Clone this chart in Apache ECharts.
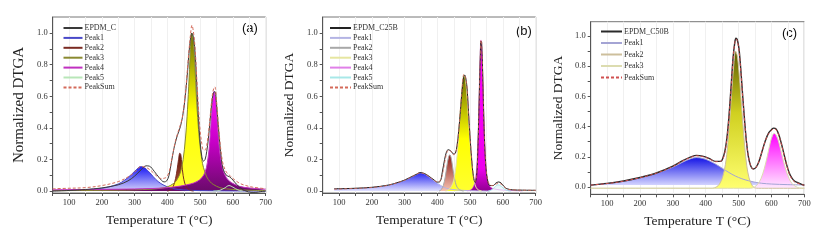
<!DOCTYPE html>
<html><head><meta charset="utf-8">
<script src="https://cdn.jsdelivr.net/npm/echarts@6/dist/echarts.min.js"></script>
<style>html,body{margin:0;padding:0;background:#fff}#c{width:835px;height:240px}</style>
</head><body><div id="c"></div>
<script>
// ---------- tick labels ----------
const xLabelValues = [100,200,300,400,500,600,700];
const yLabelValues = [0,0.2,0.4,0.6,0.8,1.0];
const yTickValues = [0,0.1,0.2,0.3,0.4,0.5,0.6,0.7,0.8,0.9,1.0];
const panelLabels = ['(a)','(b)','(c)'];
const xTitle = 'Temperature T (\u00B0C)';
const yTitle = 'Normalized DTGA';

// ---------- panel (a): EPDM_C ----------
const aNames = ['EPDM_C','Peak1','Peak2','Peak3','Peak4','Peak5','PeakSum'];
const aEPDM = [[50,0.0],[100,0.004],[150,0.01],[200,0.02],[250,0.04],[280,0.065],[300,0.095],[320,0.135],[335,0.16],[345,0.158],[360,0.125],[375,0.085],[390,0.058],[398,0.065],[405,0.1],[412,0.18],[420,0.27],[430,0.35],[440,0.41],[450,0.52],[460,0.72],[468,0.92],[475,1.0],[480,0.97],[485,0.86],[490,0.66],[495,0.46],[500,0.31],[505,0.22],[510,0.19],[515,0.2],[520,0.25],[525,0.33],[530,0.44],[535,0.55],[540,0.62],[545,0.63],[550,0.55],[555,0.42],[560,0.3],[565,0.2],[570,0.14],[580,0.1],[590,0.09],[600,0.07],[610,0.045],[620,0.025],[630,0.01],[640,0.0],[655,-0.008],[670,-0.008],[685,-0.003],[700,0.0]];
const aP1 = [[50,0.003],[100,0.005],[150,0.009],[200,0.018],[220,0.026],[250,0.045],[270,0.07],[290,0.105],[305,0.135],[318,0.155],[330,0.148],[340,0.13],[350,0.108],[364,0.075],[380,0.048],[400,0.027],[420,0.015],[450,0.007],[500,0.003],[600,0.001],[700,0.0]];
const aP2 = [[400,0.0],[410,0.008],[418,0.03],[425,0.08],[430,0.14],[434,0.2],[438,0.24],[441,0.23],[444,0.17],[448,0.1],[453,0.05],[460,0.02],[470,0.005],[480,0.0]];
const aP3 = [[50,0.003],[150,0.004],[250,0.006],[300,0.008],[350,0.012],[380,0.018],[400,0.027],[420,0.05],[430,0.075],[440,0.12],[448,0.2],[455,0.33],[460,0.47],[465,0.66],[470,0.88],[474,1.0],[478,0.97],[482,0.86],[486,0.7],[490,0.54],[495,0.39],[500,0.28],[505,0.2],[510,0.15],[520,0.09],[530,0.06],[540,0.042],[560,0.022],[580,0.014],[620,0.008],[660,0.005],[700,0.004]];
const aP4 = [[50,0.008],[150,0.01],[250,0.012],[350,0.016],[400,0.022],[440,0.032],[470,0.045],[490,0.06],[505,0.085],[515,0.12],[522,0.18],[528,0.28],[533,0.42],[538,0.56],[542,0.63],[546,0.6],[550,0.5],[554,0.38],[558,0.28],[563,0.2],[570,0.13],[580,0.085],[590,0.062],[600,0.048],[620,0.03],[650,0.02],[700,0.012]];
const aP5 = [[540,0.0],[560,0.005],[575,0.02],[588,0.035],[600,0.025],[615,0.008],[630,0.0]];
const aSum = [[50,0.015],[100,0.018],[150,0.022],[200,0.035],[250,0.06],[280,0.09],[300,0.12],[320,0.155],[335,0.15],[350,0.13],[365,0.1],[380,0.08],[395,0.085],[405,0.12],[415,0.22],[425,0.32],[435,0.39],[445,0.46],[455,0.62],[463,0.82],[470,0.98],[475,1.05],[480,1.0],[485,0.89],[490,0.7],[495,0.52],[500,0.38],[505,0.3],[510,0.26],[515,0.26],[520,0.29],[525,0.36],[530,0.46],[535,0.57],[540,0.64],[545,0.66],[550,0.57],[555,0.44],[560,0.32],[565,0.23],[570,0.17],[580,0.12],[590,0.1],[600,0.08],[620,0.05],[640,0.035],[660,0.025],[700,0.015]];

// ---------- panel (b): EPDM_C25B ----------
const bNames = ['EPDM_C25B','Peak1 ','Peak2 ','Peak3 ','Peak4 ','Peak5 ','PeakSum '];
const bEPDM = [[85,0.015],[120,0.016],[150,0.018],[200,0.024],[250,0.038],[280,0.055],[300,0.07],[320,0.09],[335,0.105],[347,0.117],[360,0.112],[375,0.093],[390,0.07],[400,0.057],[408,0.06],[415,0.12],[422,0.2],[428,0.25],[433,0.262],[438,0.258],[443,0.25],[449,0.235],[455,0.24],[460,0.29],[465,0.38],[470,0.5],[475,0.63],[480,0.72],[483,0.735],[487,0.71],[491,0.64],[495,0.5],[500,0.33],[505,0.19],[510,0.09],[515,0.055],[520,0.1],[524,0.3],[528,0.62],[531,0.86],[533,0.95],[535,0.94],[538,0.76],[541,0.51],[544,0.31],[548,0.15],[553,0.07],[560,0.035],[570,0.035],[578,0.05],[587,0.058],[595,0.05],[603,0.03],[612,0.015],[630,0.008],[660,0.006],[700,0.005]];
const bP1 = [[85,0.012],[150,0.016],[200,0.022],[250,0.037],[280,0.055],[300,0.069],[320,0.089],[335,0.104],[347,0.116],[360,0.11],[375,0.09],[390,0.066],[400,0.05],[410,0.036],[420,0.024],[435,0.014],[460,0.007],[500,0.003],[560,0.0]];
const bP2 = [[405,0.0],[412,0.01],[418,0.035],[424,0.09],[429,0.16],[434,0.215],[438,0.23],[442,0.21],[446,0.16],[450,0.105],[455,0.055],[460,0.025],[468,0.008],[480,0.0]];
const bP3 = [[425,0.0],[435,0.01],[443,0.03],[450,0.07],[457,0.16],[463,0.3],[468,0.45],[473,0.6],[477,0.7],[481,0.735],[485,0.715],[489,0.64],[493,0.52],[497,0.39],[501,0.27],[505,0.17],[510,0.09],[515,0.04],[522,0.012],[535,0.0]];
const bP4 = [[490,0.0],[503,0.01],[511,0.035],[516,0.08],[520,0.17],[524,0.36],[527,0.6],[530,0.85],[533,0.957],[536,0.9],[539,0.72],[542,0.5],[545,0.31],[549,0.15],[554,0.065],[560,0.03],[570,0.016],[590,0.008],[620,0.004],[660,0.0]];
const bP5 = [[555,0.0],[565,0.008],[575,0.025],[585,0.04],[595,0.03],[605,0.012],[615,0.003],[625,0.0]];
const bSum = [[85,0.012],[150,0.017],[200,0.023],[250,0.037],[300,0.069],[330,0.1],[347,0.115],[360,0.11],[375,0.09],[390,0.068],[400,0.058],[410,0.07],[418,0.13],[425,0.21],[431,0.255],[436,0.26],[442,0.25],[448,0.23],[455,0.24],[460,0.28],[465,0.38],[470,0.51],[475,0.64],[481,0.74],[486,0.72],[491,0.64],[495,0.5],[500,0.34],[505,0.2],[510,0.1],[515,0.06],[520,0.1],[524,0.3],[528,0.62],[531,0.86],[533,0.957],[535,0.94],[538,0.76],[541,0.51],[544,0.31],[548,0.16],[553,0.075],[560,0.04],[570,0.035],[580,0.045],[588,0.05],[597,0.04],[605,0.025],[615,0.012],[640,0.007],[700,0.005]];

// ---------- panel (c): EPDM_C50B ----------
const cNames = ['EPDM_C50B','Peak1  ','Peak2  ','Peak3  ','PeakSum  '];
const cEPDM = [[50,0.013],[100,0.024],[150,0.04],[200,0.063],[250,0.093],[300,0.138],[330,0.175],[355,0.2],[372,0.21],[390,0.205],[410,0.19],[430,0.17],[445,0.17],[455,0.21],[463,0.3],[470,0.45],[477,0.66],[483,0.85],[488,0.95],[492,0.985],[496,0.975],[501,0.92],[506,0.8],[512,0.62],[518,0.45],[524,0.3],[530,0.2],[537,0.14],[545,0.12],[553,0.13],[562,0.17],[572,0.24],[582,0.31],[592,0.36],[600,0.38],[607,0.39],[614,0.385],[622,0.35],[630,0.29],[638,0.22],[646,0.15],[654,0.095],[662,0.06],[670,0.04],[680,0.03],[690,0.02],[700,0.012]];
const cP1 = [[50,0.013],[100,0.023],[150,0.038],[200,0.06],[250,0.09],[300,0.132],[330,0.165],[355,0.188],[372,0.195],[390,0.19],[410,0.175],[430,0.152],[450,0.125],[470,0.097],[490,0.073],[510,0.055],[530,0.042],[550,0.032],[570,0.025],[600,0.02],[650,0.016],[700,0.014]];
const cP2 = [[50,-0.008],[420,-0.008],[432,0.0],[442,0.02],[452,0.07],[460,0.15],[467,0.28],[474,0.47],[480,0.66],[485,0.8],[491,0.9],[496,0.87],[501,0.77],[507,0.6],[513,0.42],[519,0.26],[525,0.14],[532,0.06],[540,0.015],[548,-0.004],[560,-0.008],[700,-0.008]];
const cP3 = [[50,-0.008],[535,-0.008],[548,0.0],[558,0.018],[568,0.055],[578,0.12],[588,0.21],[597,0.3],[603,0.34],[608,0.355],[614,0.345],[622,0.3],[630,0.23],[638,0.16],[646,0.1],[654,0.055],[662,0.025],[672,0.006],[685,-0.006],[700,-0.008]];
const cSum = [[50,0.013],[100,0.023],[150,0.039],[200,0.062],[250,0.092],[300,0.136],[330,0.173],[355,0.197],[372,0.207],[390,0.202],[410,0.188],[430,0.168],[445,0.17],[455,0.2],[463,0.29],[470,0.44],[477,0.65],[483,0.84],[488,0.95],[492,0.98],[496,0.97],[501,0.91],[506,0.79],[512,0.61],[518,0.44],[524,0.3],[530,0.2],[537,0.14],[545,0.12],[553,0.13],[562,0.17],[572,0.24],[582,0.31],[592,0.355],[600,0.375],[607,0.385],[614,0.38],[622,0.345],[630,0.285],[638,0.215],[646,0.145],[654,0.09],[662,0.055],[670,0.035],[680,0.025],[690,0.018],[700,0.012]];

// ---------- build ----------
const SERIF = '"Liberation Serif","Times New Roman",serif';
const SANS = '"Liberation Sans",Arial,Helvetica,sans-serif';
const chart = echarts.init(document.getElementById('c'), null, {renderer:'canvas'});
function grad(stops){return new echarts.graphic.LinearGradient(0,0,0,1,stops.map(s=>({offset:s[0],color:s[1]})));}
function S(name, data, idx, color, width, fill, opts){
  opts = opts || {};
  const s = {type:'line', name, data, xAxisIndex:idx, yAxisIndex:idx, symbol:'none', smooth:0.35,
    lineStyle:{color, width, type: opts.dash ? [3,2] : 'solid'}, itemStyle:{color}, z: opts.z || 2, animation:false};
  if (fill) { s.areaStyle = {color: grad(fill), opacity:1}; if (opts.origin !== undefined) s.areaStyle.origin = opts.origin; }
  return s;
}
const grids = [
  {left:52.7, top:17, width:213, height:176},
  {left:322.7, top:17, width:213, height:176},
  {left:590.7, top:21.7, width:213.6, height:172.6}
];
const yRanges = [[-0.012,1.102],[-0.012,1.102],[-0.048,1.095]];
const yNameGap = [26, 26, 25];
const yNameSize = [15, 13.5, 13.5];
const legendText = {fontFamily:SERIF, fontSize:8, color:'#333', padding:[0,0,0,-3]};
const labelPos = [[242,22],[516,25],[782,27]];

const option = {
  backgroundColor:'#fff',
  animation:false,
  grid: grids.map(g=>Object.assign({show:true, borderColor:'#777', borderWidth:1, containLabel:false}, g)),
  xAxis: grids.map((g,i)=>({type:'value', gridIndex:i, min:50, max:700, interval:50,
    name:xTitle, nameLocation:'middle', nameGap:20, nameTextStyle:{fontFamily:SERIF, fontSize:13.5, color:'#222'},
    axisLine:{show:true, onZero:false, lineStyle:{color:'#555'}},
    axisTick:{show:true, inside:false, length:3, lineStyle:{color:'#555'}},
    axisLabel:{fontFamily:SERIF, fontSize:8.5, color:'#333', margin:5, formatter:v=> (v%100===0 && v>50) ? String(v) : ''},
    splitLine:{show:true, lineStyle:{color:'#f0f0f0', width:1}}
  })),
  yAxis: grids.map((g,i)=>({type:'value', gridIndex:i, min:yRanges[i][0], max:yRanges[i][1],
    name:yTitle, nameLocation:'middle', nameGap:yNameGap[i], nameTextStyle:{fontFamily:SERIF, fontSize:yNameSize[i], color:'#222'},
    axisLine:{show:true, onZero:false, lineStyle:{color:'#555'}},
    axisTick:{show:true, inside:false, length:3, customValues:yTickValues, lineStyle:{color:'#555'}},
    axisLabel:{fontFamily:SERIF, fontSize:8.5, color:'#333', margin:5, customValues:yLabelValues, formatter:v=>v.toFixed(1)},
    splitLine:{show:false}
  })),
  legend: [
    {left:62.5, top:24, padding:0, orient:'vertical', itemWidth:19, itemHeight:8, itemGap:1.9, selectedMode:false,
     itemStyle:{opacity:0}, textStyle:legendText, data:aNames},
    {left:329, top:24, padding:0, orient:'vertical', itemWidth:21, itemHeight:8, itemGap:1.9, selectedMode:false,
     itemStyle:{opacity:0}, textStyle:legendText, data:bNames},
    {left:600, top:27.5, padding:0, orient:'vertical', itemWidth:21, itemHeight:8, itemGap:3.5, selectedMode:false,
     itemStyle:{opacity:0}, textStyle:legendText, data:cNames}
  ],
  graphic: panelLabels.map((t,i)=>({type:'text', left:labelPos[i][0], top:labelPos[i][1],
    style:{text:t, fontFamily:SANS, fontSize:13, fill:'#111'}})),
  series: [
    // (a)
    S(aNames[1], aP1, 0, '#4848c8', 1, [[0,'#1818f4'],[1,'#d6d2fa']]),
    S(aNames[2], aP2, 0, '#7a2a22', 1, [[0,'#5a1408'],[1,'#b85a40']]),
    S(aNames[3], aP3, 0, '#8a8a30', 1, [[0,'#6e6e00'],[0.3,'#caca00'],[0.5,'#ffff00'],[1,'#ffff30']]),
    S(aNames[4], aP4, 0, '#c030c0', 1, [[0,'#ff10ff'],[0.5,'#c800c8'],[1,'#6a0a6a']]),
    S(aNames[5], aP5, 0, '#b8e6b8', 1, null),
    S(aNames[0], aEPDM, 0, '#3a3a3a', 1, null, {z:4}),
    S(aNames[6], aSum, 0, '#d46a5a', 1, null, {dash:true, z:5}),
    // (b)
    S(bNames[1], bP1, 1, '#b4b4e4', 1, [[0,'#2828f0'],[1,'#e2e2ff']]),
    S(bNames[2], bP2, 1, '#a8a8a8', 1, [[0,'#8a1a14'],[1,'#f8c4b4']]),
    S(bNames[3], bP3, 1, '#e6e6a0', 1, [[0,'#6e6e00'],[0.35,'#caca00'],[0.55,'#ffff00'],[1,'#ffff30']]),
    S(bNames[4], bP4, 1, '#e080e8', 0.5, [[0,'#ff00ff'],[0.85,'#ee00ee'],[1,'#900090']]),
    S(bNames[5], bP5, 1, '#a8e8e8', 1, [[0,'#e4f4f8'],[1,'#f4fafc']]),
    S(bNames[0], bEPDM, 1, '#222', 1.0, null, {z:4}),
    S(bNames[6], bSum, 1, '#d46a5a', 0.8, null, {dash:true, z:5}),
    // (c)
    S(cNames[1], cP1, 2, '#a4a4d4', 1, [[0,'#1414e6'],[1,'#d4d4ff']], {origin:0.013}),
    S(cNames[2], cP2, 2, '#cdbf9c', 1, [[0,'#5c5c00'],[0.45,'#d0d020'],[1,'#ffff70']], {origin:-0.008}),
    S(cNames[3], cP3, 2, '#dcdcb0', 1, [[0,'#ff00ff'],[1,'#ffeaff']], {origin:-0.008}),
    S(cNames[0], cEPDM, 2, '#2a2a2a', 1.4, null, {z:4}),
    S(cNames[4], cSum, 2, '#d05050', 1, null, {dash:true, z:5})
  ]
};
chart.setOption(option);
</script></body></html>
